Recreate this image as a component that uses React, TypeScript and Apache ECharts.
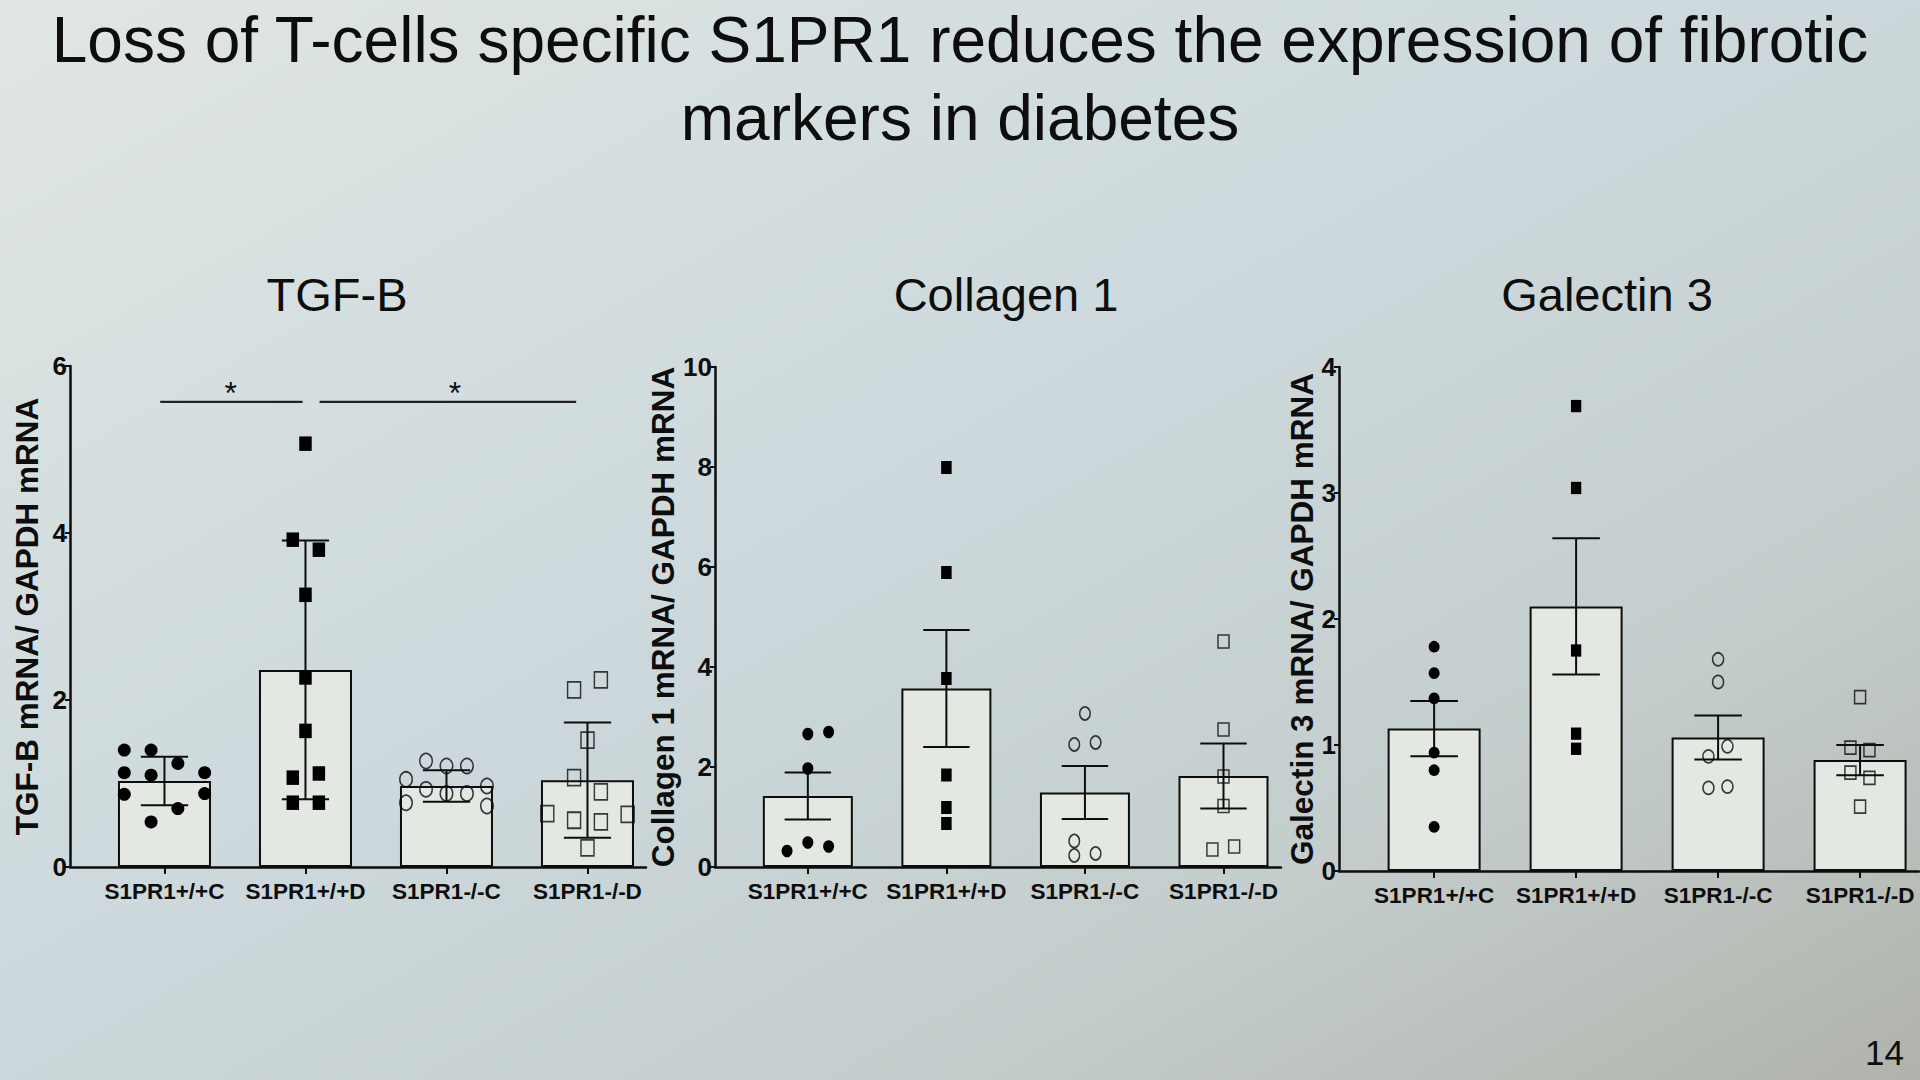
import React, { useEffect, useRef } from "react";
import * as echarts from "echarts";

// ---------------- data ----------------
const MAIN_TITLE = "Loss of T-cells specific S1PR1 reduces the expression of fibrotic\nmarkers in diabetes";
const PANEL_TITLES = ["TGF-B", "Collagen 1", "Galectin 3"];
const Y_NAMES = ["TGF-B mRNA/ GAPDH mRNA", "Collagen 1 mRNA/ GAPDH mRNA", "Galectin 3 mRNA/ GAPDH mRNA"];
const CATEGORIES = ["S1PR1+/+C", "S1PR1+/+D", "S1PR1-/-C", "S1PR1-/-D"];
const PAGE_NUMBER = "14";

const Y_MAX = [6, 10, 4];
const Y_STEP = [2, 2, 1];

// TGF-B
const TGFB_MEAN = [1.03, 2.36, 0.97, 1.04];
const TGFB_ERR = [0.29, 1.55, 0.19, 0.69];
const TGFB_VALS = [
  [1.4, 1.4, 1.24, 1.13, 1.1, 1.13, 0.87, 0.88, 0.7, 0.54],
  [5.07, 3.92, 3.8, 3.26, 2.27, 1.63, 1.07, 1.12, 0.77, 0.77],
  [1.27, 1.21, 1.21, 1.05, 0.93, 0.88, 0.88, 0.97, 0.77, 0.73],
  [2.12, 2.24, 1.52, 1.07, 0.9, 0.64, 0.56, 0.54, 0.63, 0.23],
];
const TGFB_JITTER = [
  [-0.285, -0.095, 0.095, -0.285, -0.095, 0.285, -0.285, 0.285, 0.095, -0.095],
  [0, -0.09, 0.095, 0, 0, 0, -0.09, 0.095, -0.09, 0.095],
  [-0.145, 0, 0.145, -0.287, -0.145, 0, 0.145, 0.287, -0.287, 0.287],
  [-0.095, 0.095, 0, -0.095, 0.095, -0.285, -0.095, 0.095, 0.285, 0],
];
// significance brackets (TGF-B): from, to, y, star position
const SIG_FROM = [-0.03, 1.1];
const SIG_TO = [0.98, 2.92];
const SIG_Y = [5.57, 5.57];
const SIG_STAR_X = [0.47, 2.06];
const SIG_TEXT = ["*", "*"];

// Collagen 1
const COL_MEAN = [1.42, 3.57, 1.49, 1.82];
const COL_ERR = [0.47, 1.17, 0.53, 0.65];
const COL_VALS = [
  [2.66, 2.7, 1.97, 0.32, 0.49, 0.41],
  [7.99, 5.89, 3.77, 1.84, 1.19, 0.87],
  [3.07, 2.45, 2.49, 0.52, 0.23, 0.27],
  [4.51, 2.75, 1.81, 1.22, 0.35, 0.41],
];
const COL_JITTER = [
  [0, 0.15, 0, -0.15, 0, 0.15],
  [0, 0, 0, 0, 0, 0],
  [0, -0.077, 0.077, -0.077, -0.077, 0.077],
  [0, 0, 0, 0, -0.08, 0.077],
];

// Galectin 3
const GAL_MEAN = [1.13, 2.1, 1.06, 0.88];
const GAL_ERR = [0.22, 0.54, 0.175, 0.12];
const GAL_VALS = [
  [1.78, 1.57, 1.37, 0.94, 0.8, 0.35],
  [3.69, 3.04, 1.75, 1.09, 0.97],
  [1.68, 1.5, 0.99, 0.91, 0.66, 0.67],
  [1.38, 0.98, 0.96, 0.78, 0.74, 0.51],
];
const GAL_JITTER = [
  [0, 0, 0, 0, 0, 0],
  [0, 0, 0, 0, 0],
  [0, 0, 0.066, -0.068, -0.068, 0.066],
  [0, -0.068, 0.066, -0.068, 0.066, 0],
];

// ---------------- styles ----------------
const FONT = "'Liberation Sans', Arial, Helvetica, sans-serif";
const INK = "#0d0d0d";
const BAR_FILL = "#e4e8e2";

const GRIDS = [
  { left: 70, top: 366, width: 576, height: 501 },
  { left: 715, top: 367, width: 566, height: 500 },
  { left: 1339, top: 367, width: 580, height: 504 },
];
const X_MIN = -0.67;
const X_MAX = 3.415;
const BAR_W = [93, 90, 93];
const CAP_FRAC = 0.335;
const NAME_GAP = [27, 27, 19];

const MARKERS = [
  { symbol: "circle", filled: true },
  { symbol: "rect", filled: true },
  { symbol: "circle", filled: false },
  { symbol: "rect", filled: false },
];
const MARKER_SIZES = [
  [[13, 13], [12.5, 14.5], [12.5, 15], [13, 16]],
  [[11, 12.5], [10.5, 13], [10.5, 13], [11, 13]],
  [[11, 11.7], [10.3, 12.3], [11, 13], [11, 13]],
];

const PANELS = [
  { mean: TGFB_MEAN, err: TGFB_ERR, vals: TGFB_VALS, jit: TGFB_JITTER },
  { mean: COL_MEAN, err: COL_ERR, vals: COL_VALS, jit: COL_JITTER },
  { mean: GAL_MEAN, err: GAL_ERR, vals: GAL_VALS, jit: GAL_JITTER },
];

function buildOption() {
  const grid: any[] = [];
  const xAxis: any[] = [];
  const yAxis: any[] = [];
  const series: any[] = [];

  PANELS.forEach((p, i) => {
    grid.push({ ...GRIDS[i], outerBoundsMode: "none", containLabel: false });
    xAxis.push({
      type: "value",
      gridIndex: i,
      min: X_MIN,
      max: X_MAX,
      splitLine: { show: false },
      axisLine: { show: true, onZero: false, lineStyle: { color: INK, width: 2.5 } },
      axisTick: { show: true, customValues: [0, 1, 2, 3], length: 7, lineStyle: { color: INK, width: 2 } },
      axisLabel: {
        show: true,
        customValues: [0, 1, 2, 3],
        formatter: (v: number) => CATEGORIES[Math.round(v)] ?? "",
        color: INK,
        fontFamily: FONT,
        fontWeight: "bold",
        fontSize: 22.5,
        margin: 13,
      },
    });
    yAxis.push({
      type: "value",
      gridIndex: i,
      min: 0,
      max: Y_MAX[i],
      interval: Y_STEP[i],
      splitLine: { show: false },
      axisLine: { show: true, onZero: false, lineStyle: { color: INK, width: 2.5 } },
      axisTick: { show: true, length: 5, lineStyle: { color: INK, width: 2 } },
      axisLabel: { color: INK, fontFamily: FONT, fontWeight: "bold", fontSize: 26, margin: 3 },
      name: Y_NAMES[i],
      nameLocation: "middle",
      nameGap: NAME_GAP[i],
      nameTextStyle: { color: INK, fontFamily: FONT, fontWeight: "bold", fontSize: 31.5 },
    });

    series.push({
      type: "bar",
      xAxisIndex: i,
      yAxisIndex: i,
      barWidth: BAR_W[i],
      z: 2,
      silent: true,
      itemStyle: { color: BAR_FILL, borderColor: INK, borderWidth: 2 },
      data: p.mean.map((m, k) => [k, m]),
    });

    series.push({
      type: "custom",
      xAxisIndex: i,
      yAxisIndex: i,
      z: 3,
      silent: true,
      data: p.mean.map((m, k) => [k, m, p.err[k]]),
      renderItem: (params: any, api: any) => {
        const x = api.value(0);
        const m = api.value(1);
        const e = api.value(2);
        const top = api.coord([x, m + e]);
        const bot = api.coord([x, m - e]);
        const w = api.size([1, 0])[0] * CAP_FRAC;
        const st = { stroke: INK, lineWidth: 2 };
        return {
          type: "group",
          children: [
            { type: "line", shape: { x1: top[0], y1: top[1], x2: bot[0], y2: bot[1] }, style: st },
            { type: "line", shape: { x1: top[0] - w / 2, y1: top[1], x2: top[0] + w / 2, y2: top[1] }, style: st },
            { type: "line", shape: { x1: bot[0] - w / 2, y1: bot[1], x2: bot[0] + w / 2, y2: bot[1] }, style: st },
          ],
        };
      },
    });

    p.vals.forEach((vals, g) => {
      const mk = MARKERS[g];
      series.push({
        type: "scatter",
        xAxisIndex: i,
        yAxisIndex: i,
        z: 4,
        silent: true,
        symbol: mk.symbol,
        symbolSize: MARKER_SIZES[i][g],
        itemStyle: mk.filled
          ? { color: "#000", borderWidth: 0, opacity: 1 }
          : { color: "rgba(0,0,0,0)", borderColor: INK, borderWidth: 1.6 },
        data: vals.map((v, k) => [g + p.jit[g][k], v]),
      });
    });
  });

  // significance brackets on TGF-B panel (custom series: line + star)
  series.push({
    type: "custom",
    xAxisIndex: 0,
    yAxisIndex: 0,
    z: 5,
    silent: true,
    data: SIG_FROM.map((f, k) => [f, SIG_TO[k], SIG_Y[k], SIG_STAR_X[k]]),
    renderItem: (params: any, api: any) => {
      const a = api.coord([api.value(0), api.value(2)]);
      const b = api.coord([api.value(1), api.value(2)]);
      const s = api.coord([api.value(3), api.value(2)]);
      return {
        type: "group",
        children: [
          { type: "line", shape: { x1: a[0], y1: a[1], x2: b[0], y2: b[1] }, style: { stroke: "#222", lineWidth: 2.2 } },
          {
            type: "text",
            x: s[0],
            y: a[1] + 7,
            style: {
              text: SIG_TEXT[params.dataIndex],
              fill: INK,
              font: `32px ${FONT}`,
              align: "center",
              verticalAlign: "bottom",
            },
          },
        ],
      };
    },
  });

  const title: any[] = [
    {
      text: MAIN_TITLE,
      left: "center",
      top: 1,
      padding: 0,
      textStyle: { fontFamily: FONT, fontSize: 64, fontWeight: "normal", color: INK, lineHeight: 78 },
    },
    ...PANEL_TITLES.map((t, i) => ({
      text: t,
      left: [337, 1006, 1607][i],
      top: 266,
      textAlign: "center",
      padding: 0,
      textStyle: { fontFamily: FONT, fontSize: 47, fontWeight: "normal", color: INK, lineHeight: 56 },
    })),
    {
      text: PAGE_NUMBER,
      right: 16,
      top: 1032,
      padding: 0,
      textStyle: { fontFamily: FONT, fontSize: 35, fontWeight: "normal", color: INK, lineHeight: 40 },
    },
  ];

  return {
    animation: false,
    backgroundColor: {
      type: "linear",
      x: 0,
      y: 0,
      x2: 1,
      y2: 1,
      colorStops: [
        { offset: 0, color: "#e0e6e3" },
        { offset: 0.45, color: "#cdd9dd" },
        { offset: 0.75, color: "#c4cdcc" },
        { offset: 1, color: "#b0b3ab" },
      ],
    },
    title,
    grid,
    xAxis,
    yAxis,
    series,
  };
}

export default function App() {
  const ref = useRef<HTMLDivElement>(null);
  useEffect(() => {
    if (!ref.current) return;
    const chart = echarts.init(ref.current, undefined, { renderer: "svg" });
    chart.setOption(buildOption() as any);
    return () => chart.dispose();
  }, []);
  return (
    <div
      ref={ref}
      style={{ position: "absolute", left: 0, top: 0, width: 1920, height: 1080 }}
    />
  );
}
